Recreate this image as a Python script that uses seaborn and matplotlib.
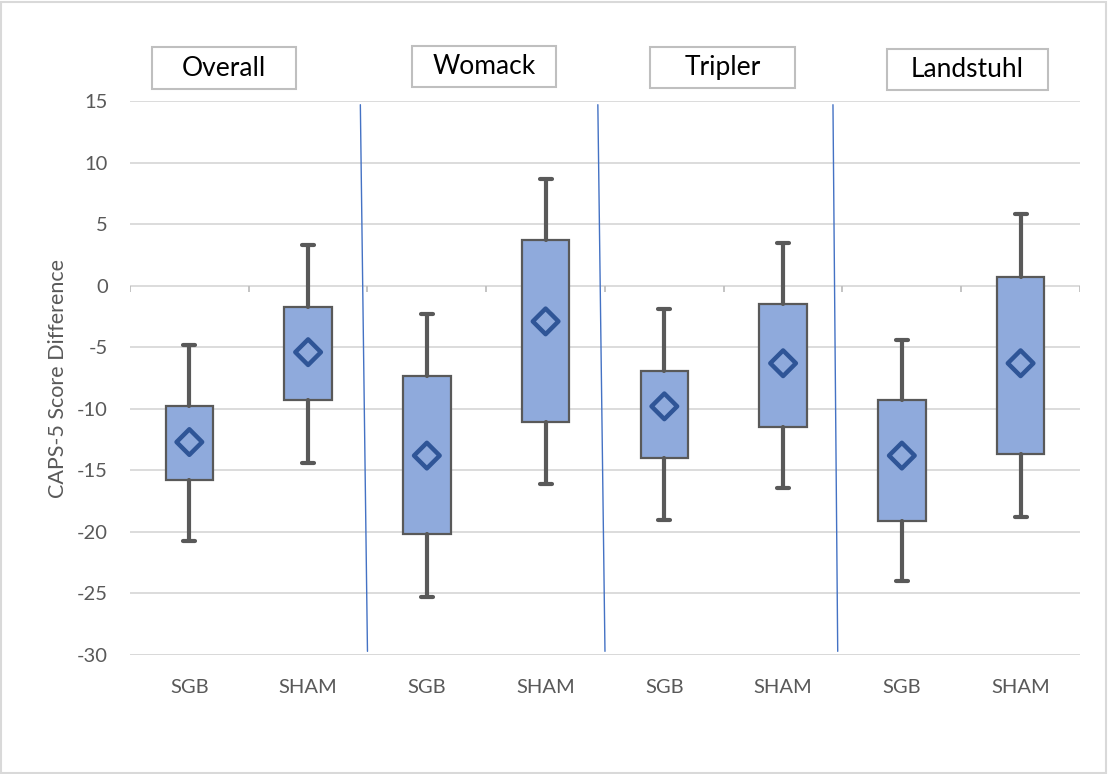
import numpy as np
import seaborn as sns
import matplotlib.pyplot as plt
from matplotlib.patches import Rectangle

# Данные
sites = ["Overall", "Womack", "Tripler", "Landstuhl"]
groups = ["SGB", "SHAM", "SGB", "SHAM", "SGB", "SHAM", "SGB", "SHAM"]
whisker_low = [-20.7, -14.4, -25.3, -16.1, -19.0, -16.4, -24.0, -18.8]
box_low = [-15.8, -9.3, -20.2, -11.1, -14.0, -11.5, -19.1, -13.7]
box_high = [-9.8, -1.7, -7.3, 3.7, -6.9, -1.5, -9.3, 0.7]
whisker_high = [-4.8, 3.3, -2.3, 8.7, -1.9, 3.5, -4.4, 5.8]
means = [-12.7, -5.4, -13.8, -2.9, -9.8, -6.3, -13.8, -6.3]

sns.set_theme(style="white")
plt.rcParams['font.family'] = ['Lato', 'DejaVu Sans']
plt.rcParams['axes.unicode_minus'] = False

gray_txt = "#595959"
fig = plt.figure(figsize=(11.08, 7.74), dpi=100)
ax = fig.add_axes([0.1173, 0.1537, 0.8574, 0.7158])

# Ящики с усами
stats = []
for i in range(len(groups)):
    stats.append(dict(whislo=whisker_low[i], q1=box_low[i], med=box_low[i],
                      q3=box_high[i], whishi=whisker_high[i], label=groups[i]))
ax.bxp(stats, positions=range(len(groups)), widths=0.4, showfliers=False,
       patch_artist=True, manage_ticks=False,
       boxprops=dict(facecolor="#8faadc", edgecolor=gray_txt, linewidth=1.6),
       whiskerprops=dict(color=gray_txt, linewidth=3),
       capprops=dict(color=gray_txt, linewidth=3),
       capwidths=0.1,
       medianprops=dict(linewidth=0))

# Средние значения
sns.scatterplot(x=list(range(len(groups))), y=means, marker="D", s=170,
                facecolor="none", edgecolor="#2f5597", linewidth=3.2,
                ax=ax, zorder=5)

ax.set_xlim(-0.5, 7.5)
ax.set_ylim(-30, 15)
ax.set_yticks(np.arange(-30, 16, 5))
ax.set_xticks(range(len(groups)))
ax.set_xticklabels(groups)
ax.tick_params(axis="both", length=0, labelsize=14.5, labelcolor=gray_txt)
ax.tick_params(axis="x", pad=17)
ax.tick_params(axis="y", pad=16)
ax.yaxis.grid(True, color="#d9d9d9", linewidth=1.3)
ax.set_axisbelow(True)
for s in ax.spines.values():
    s.set_visible(False)
ax.axhline(-30, color="#d9d9d9", linewidth=2, zorder=0)
ax.set_ylabel("CAPS-5 Score Difference", fontsize=15.5, color=gray_txt, labelpad=6)

# Метки делений категорий на нулевой линии
ax.vlines(np.arange(-0.5, 8, 1), -0.5, 0, color="#bfbfbf", linewidth=1.3, zorder=1)

# Разделители между площадками (слегка наклонные)
for xt, xb in [(1.44, 1.5), (3.44, 3.5), (5.42, 5.46)]:
    ax.plot([xt, xb], [14.7, -29.7], color="#4472c4", linewidth=1)

# Подписи площадок в рамках
label_boxes = [(152, 47, 144, 42), (412, 46, 144, 41), (650, 47, 145, 41), (887, 49, 161, 41)]
for name, (x0, y0, w, h) in zip(sites, label_boxes):
    fig.patches.append(Rectangle((x0 / 1108, 1 - (y0 + h) / 774), w / 1108, h / 774,
                                 transform=fig.transFigure, facecolor="white",
                                 edgecolor="#bfbfbf", linewidth=1.5))
    fig.text((x0 + w / 2) / 1108, 1 - (y0 + h / 2) / 774, name, ha="center",
             va="center", fontsize=19, color="black")

# Рамка области диаграммы
fig.patches.append(Rectangle((0.001, 0.001), 0.997, 0.997, transform=fig.transFigure,
                             facecolor="none", edgecolor="#d9d9d9", linewidth=1.5))

fig.savefig("out.png", dpi=100)
